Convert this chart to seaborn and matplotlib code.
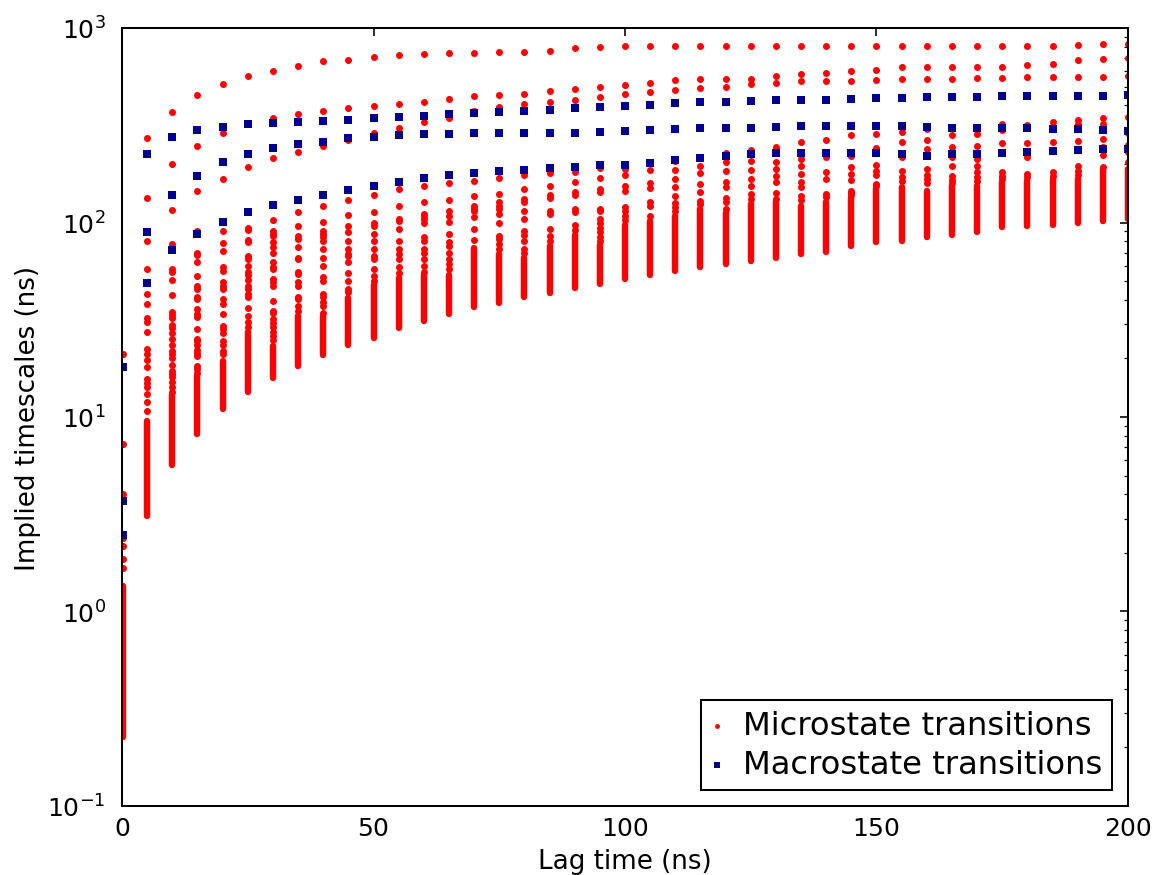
import matplotlib
matplotlib.use("Agg")
import matplotlib.pyplot as plt
import seaborn as sns
import pandas as pd

# ---------------- data ----------------
lag_times = [0.25, 5, 10, 15, 20, 25, 30, 35, 40, 45, 50, 55, 60, 65, 70, 75, 80,
             85, 90, 95, 100, 105, 110, 115, 120, 125, 130, 135, 140, 145, 150,
             155, 160, 165, 170, 175, 180, 185, 190, 195, 200]

# individually visible microstate timescales (ns) for each lag time
micro_sparse = [
    [21.1, 7.26, 4.02, 2.38, 2.16, 1.86, 1.67],
    [272, 133, 80.5, 57.7, 42.8, 38.3, 32.3, 30.7, 27.2, 22.4, 21.1, 19.6, 18.0, 15.6, 15.0, 14.2, 13.1, 11.9, 10.7],
    [372, 201, 116, 78, 57.7, 55.5, 50.7, 42.6, 34.7, 33.4, 32.3, 29.7, 28.6, 27.0, 25.3, 23.5, 21.8, 21.0, 20.2, 18.6, 17.3, 16.6, 16.0, 15.1, 14.3, 13.5],
    [454, 248, 145, 90.8, 70, 68, 62.4, 53.3, 47.3, 45.5, 41.2, 40.3, 35.9, 34.0, 32.8, 28.3, 25.2, 24.7, 23.4, 22.2, 21.3, 20.5, 18.4, 17.7, 16.9],
    [517, 287, 167, 90, 78.5, 71.6, 58.9, 56.5, 49.2, 47.3, 45.5, 40.5, 38.2, 33.9, 29.5, 28.4, 26.9, 24.7, 23.4, 21.8, 21.0],
    [564, 320, 192, 94, 91, 81, 79.5, 67, 65, 60, 55.5, 54, 50.7, 47.3, 45.5, 43, 41.2, 36.3, 33.2, 30.7, 29],
    [598, 343, 214, 103, 90, 87.4, 85.5, 79, 74.6, 70, 62.4, 59, 57.7, 51.2, 49.2, 47.3, 39.6, 35.2, 34.4, 32, 30.5, 29, 27.5, 26, 24.8],
    [635, 362, 231, 113, 96, 85.5, 82, 75, 66, 65, 55.5, 54.5, 49.2, 47.3, 41.2, 40.4, 37.3, 35.2],
    [677, 374, 248, 122, 101, 90, 87.5, 84, 80.5, 73, 66, 60, 52.5, 50, 43, 41.2, 38.9, 37.3, 34.4],
    [684, 386, 267, 131, 109, 96, 89, 80.5, 73, 69, 67, 62.4, 55, 50, 45.5, 43.7],
    [714, 399, 290, 139, 113, 100, 96, 87.5, 80.5, 73, 67.5, 65, 57.7, 53, 50],
    [729, 408, 308, 149, 121, 104, 102, 92.5, 80.5, 73, 69, 65, 59, 55],
    [738, 418, 327, 155, 127, 110, 108, 104, 100, 84, 80.5, 73, 70, 65, 60, 56],
    [748, 434, 346, 160, 131, 114, 108, 101, 87, 79, 76, 70, 65, 61, 58],
    [746, 445, 374, 163, 137, 121, 117, 114, 107, 92.5, 81],
    [750, 452, 391, 170, 141, 127, 122, 117, 110, 100, 85.5, 82, 77.5, 73],
    [752, 459, 405, 175, 149, 132, 127, 115, 104, 90, 86, 80.5, 73, 70],
    [764, 474, 416, 179, 155, 139, 134, 115, 110, 93, 85.5, 80.5],
    [789, 488, 426, 182, 161, 143, 139, 117, 113, 97, 92],
    [795, 497, 442, 190, 169, 149, 143, 117, 114, 104, 100, 94, 89, 84, 80.5],
    [805, 509, 456, 189, 175, 155, 145, 120, 114, 108, 103],
    [808, 523, 469, 186, 160, 151, 127, 122, 108],
    [808, 538, 482, 207, 187, 168, 153, 137, 126, 120, 114],
    [808, 549, 490, 214, 196, 179, 158, 144, 129, 125],
    [808, 548, 497, 229, 204, 185, 162, 152, 133, 128, 117],
    [808, 549, 513, 237, 208, 186, 167, 155, 141, 132],
    [808, 566, 523, 246, 227, 205, 188, 174, 161, 142, 132],
    [811, 578, 534, 258, 222, 212, 196, 178, 161, 152, 137, 130],
    [811, 587, 534, 267, 216, 181, 167, 140, 135],
    [811, 598, 534, 282, 221, 192, 178, 166, 146, 142, 138],
    [811, 612, 540, 285, 241, 198, 183, 176, 158, 155],
    [811, 630, 546, 291, 259, 216, 183, 171, 164],
    [811, 630, 546, 303, 267, 239, 188, 176, 167, 160],
    [811, 630, 548, 282, 244, 216, 195, 174, 166, 160],
    [811, 630, 555, 285, 247, 212, 196, 181, 171, 164],
    [811, 633, 555, 321, 300, 256, 181, 174, 167],
    [811, 648, 562, 318, 256, 216, 178, 171],
    [811, 655, 562, 328, 259, 232, 181, 174],
    [816, 684, 562, 337, 321, 264, 239, 196, 185, 176],
    [828, 695, 560, 343, 321, 269, 244, 222, 192],
    [830, 700, 565, 348, 290, 250, 230, 204],
]

# range of the densely packed (overlapping) microstate timescales per lag
band_top = [1.36, 9.5, 13.0, 16.2, 19.5, 27.5, 23.3, 33.2, 33, 41, 47.5, 52, 54, 54,
            74, 69, 66, 76, 86, 77, 97, 102, 108, 117, 112, 125, 127, 122, 127, 134,
            149, 152, 146, 155, 155, 162, 164, 167, 167, 188, 188]
band_bottom = [0.225, 3.11, 5.69, 8.18, 11.0, 13.4, 15.9, 18.3, 20.8, 23.5, 25.6, 28.7,
               31.0, 34.0, 36.6, 38.6, 41.2, 43.4, 45.9, 48.3, 51.3, 53.7, 56.5, 58.9,
               61.2, 63.2, 65.4, 68.9, 70.3, 76, 79, 80.7, 84, 86, 89, 94.6, 96.5, 97.2,
               100, 102, 104]

# macrostate timescales (ns)
macro_1 = [18.1, 225, 276, 299, 311, 320, 326, 330, 334, 338, 343, 349, 353, 360, 364,
           368, 373, 379, 386, 391, 399, 404, 410, 415, 418, 422, 425, 428, 429, 433,
           437, 438, 440, 441, 443, 447, 447, 449, 449, 449, 451]
macro_2 = [3.71, 89, 139, 174, 204, 226, 241, 253, 260, 271, 275, 282, 284, 286, 287,
           288, 288, 287, 288, 292, 297, 300, 303, 305, 307, 308, 311, 312, 312, 312,
           312, 312, 310, 308, 308, 306, 305, 303, 301, 299, 297]
macro_3 = [2.48, 49, 72, 87, 101, 113, 123, 131, 138, 147, 154, 162, 169, 176, 180,
           183, 187, 191, 194, 197, 198, 203, 209, 215, 220, 224, 228, 229, 229, 229,
           229, 225, 221, 224, 226, 229, 231, 232, 235, 239, 240]

x_ticks = [0, 50, 100, 150, 200]

# ---------------- style ----------------
sns.set_style("white")
plt.rcParams["font.family"] = ["DejaVu Sans"]
plt.rcParams["mathtext.fontset"] = "dejavusans"
plt.rcParams["axes.linewidth"] = 1.0
plt.rcParams["axes.edgecolor"] = "black"
plt.rcParams["text.color"] = "black"
plt.rcParams["axes.labelcolor"] = "black"
plt.rcParams["xtick.color"] = "black"
plt.rcParams["ytick.color"] = "black"

micro_rows = [(lag, v) for lag, vals in zip(lag_times, micro_sparse) for v in vals]
micro_df = pd.DataFrame(micro_rows, columns=["lag", "ts"])
macro_df = pd.DataFrame({"lag": lag_times * 3, "ts": macro_1 + macro_2 + macro_3})

fig = plt.figure(figsize=(8, 6.041), dpi=145)
ax = fig.add_axes([0.1052, 0.0788, 0.8672, 0.8881])
ax.set_yscale("log")

RED = "#ff0000"
NAVY = "#000090"

ax.vlines(lag_times, band_bottom, band_top, colors=RED, linewidth=3.2,
          capstyle="round", zorder=1)
sns.scatterplot(data=micro_df, x="lag", y="ts", color=RED, marker="o", s=12,
                linewidth=0, ax=ax, label="Microstate transitions", zorder=1)
sns.scatterplot(data=macro_df, x="lag", y="ts", color=NAVY, marker="s", s=14,
                linewidth=0, ax=ax, label="Macrostate transitions", zorder=1)

ax.set_xlim(0, 200)
ax.set_ylim(0.1, 1000)
ax.set_xticks(x_ticks)
ax.set_xticklabels([str(t) for t in x_ticks])
ax.set_xlabel("Lag time (ns)", fontsize=13, labelpad=4, color="black")
ax.set_ylabel("Implied timescales (ns)", fontsize=13, labelpad=3, color="black")

ax.tick_params(which="both", direction="in", top=True, right=True,
               colors="black", labelsize=12.5)
ax.tick_params(which="major", length=4, width=0.8)
ax.tick_params(which="minor", length=2, width=0.6)
ax.tick_params(axis="x", pad=5)
ax.tick_params(axis="y", pad=8)
for sp in ax.spines.values():
    sp.set_visible(True)
    sp.set_color("black")
    sp.set_linewidth(1.0)

leg = ax.legend(loc="lower right", fontsize=16, frameon=True, fancybox=False,
                edgecolor="black", framealpha=1, borderpad=0.3, labelspacing=0.25,
                handlelength=0.4, handletextpad=0.6, markerscale=0.7,
                borderaxespad=0.5, scatterpoints=1)
leg.get_frame().set_linewidth(1.0)
for t in leg.get_texts():
    t.set_color("black")

fig.savefig("out.png", dpi=145)
